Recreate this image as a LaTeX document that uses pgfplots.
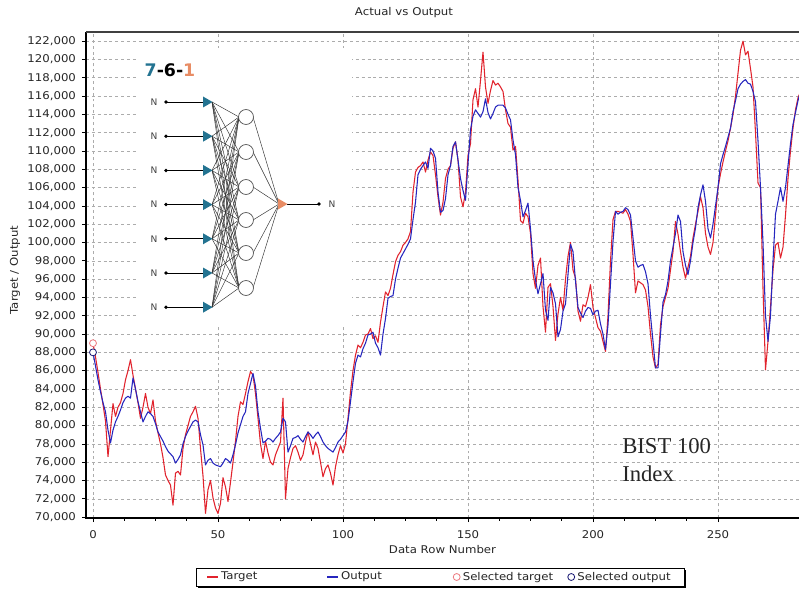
\documentclass[border=0pt]{standalone}
\usepackage{pgfplots}
\pgfplotsset{compat=1.18}
\usepackage{fontspec}
\setmainfont[FakeStretch=1.1]{DejaVu Sans}
\newfontfamily\plainsans{DejaVu Sans}
\newfontfamily\bistfont{Liberation Serif}
\definecolor{tgt}{RGB}{225,35,45}
\definecolor{outc}{RGB}{38,38,190}
\definecolor{teal7}{RGB}{35,115,145}
\definecolor{orng}{RGB}{232,140,100}
\definecolor{gridc}{RGB}{172,172,172}
\begin{document}
\begin{tikzpicture}
\begin{axis}[
 name=ax,
 at={(64.5pt,54pt)}, anchor=south west,
 scale only axis, width=534.75pt, height=364.5pt,
 xmin=-2.8, xmax=282.4, ymin=69900, ymax=123000,
 xtick={0,50,...,250}, ytick={70000,72000,...,122000},
 minor x tick num=3,
 tick align=outside, xtick pos=bottom, ytick pos=left,
 major tick length=3pt, minor tick length=2pt,
 tick style={black, line width=0.5pt},
 grid=major, major grid style={gridc, dash pattern=on 2.2pt off 2.2pt, line width=0.4pt},
 axis line style={draw=none},
 /pgf/number format/assume math mode=true,
 /pgf/number format/fixed,
 /pgf/number format/precision=0,
 /pgf/number format/1000 sep={,},
 scaled y ticks=false,
 ticklabel style={font=\fontsize{8}{10}\selectfont, text=black!85},
 xticklabel shift=3pt, yticklabel shift=1pt,
 title={Actual vs Output},
 title style={at={(axis description cs:0.446,1.0225)}, anchor=center, font=\fontsize{8}{10}\selectfont, text=black!85},
 xlabel={Data Row Number},
 xlabel style={at={(axis description cs:0.5,-0.0658)}, anchor=center, font=\fontsize{8}{10}\selectfont, text=black!85},
 ylabel={Target / Output},
 ylabel style={at={(axis description cs:-0.0996,0.51)}, anchor=center, font=\fontsize{8}{10}\selectfont, text=black!85},
 legend image code/.code={\draw[mark repeat=2,mark phase=2,#1] plot coordinates {(0pt,0pt) (4pt,0pt) (8pt,0pt)};},
 legend columns=4,
 legend style={name=leg, at={(axis description cs:0.4965,-0.1214)}, anchor=center, draw=black, line width=0.6pt, fill=white,
   font=\fontsize{8}{9.6}\selectfont, text=black!85,
   inner xsep=8pt, inner ysep=1pt,
   /tikz/column 2/.style={column sep=50pt},
   /tikz/column 4/.style={column sep=51.5pt},
   /tikz/column 6/.style={column sep=9pt}},
 every axis plot/.append style={line join=round},
]
\addplot[tgt, line width=0.8pt] coordinates {
(0,89000)(1,87500)(2,85800)(3,84000)(4,82300)(5,80500)(6,76600)(7,79500)(8,82400)(9,81000)
(10,82000)(11,82500)(12,83500)(13,85000)(14,86000)(15,87200)(16,85500)(17,84000)(18,82500)(19,80800)
(20,82000)(21,83500)(22,82000)(23,81300)(24,82800)(25,80500)(26,79200)(27,78000)(28,76500)(29,74600)
(30,74000)(31,73500)(32,71300)(33,74800)(34,75000)(35,74600)(36,77500)(37,79000)(38,80000)(39,81000)
(40,81500)(41,82100)(42,80800)(43,77500)(44,74500)(45,70400)(46,73000)(47,74000)(48,72100)(49,71000)
(50,70400)(51,71500)(52,74300)(53,73300)(54,71700)(55,73800)(56,76000)(57,78300)(58,81000)(59,82600)
(60,82300)(61,83500)(62,84800)(63,85900)(64,85500)(65,83500)(66,80800)(67,78000)(68,76400)(69,78300)
(70,77000)(71,76000)(72,75700)(73,76800)(74,77500)(75,78200)(76,83000)(77,72000)(78,75300)(79,76500)
(80,77500)(81,77800)(82,77100)(83,76200)(84,76800)(85,78200)(86,79300)(87,78000)(88,76800)(89,78200)
(90,77500)(91,76000)(92,74400)(93,75300)(94,75700)(95,74800)(96,73500)(97,75500)(98,76800)(99,77800)
(100,77000)(101,78000)(102,80800)(103,83700)(104,86000)(105,87700)(106,88800)(107,88500)(108,89100)(109,89900)
(110,90000)(111,90600)(112,89500)(113,89800)(114,89100)(115,91300)(116,93000)(117,94600)(118,94200)(119,95000)
(120,96500)(121,97900)(122,98600)(123,99000)(124,99700)(125,100000)(126,100400)(127,101200)(128,105500)(129,107700)
(130,108200)(131,108400)(132,108800)(133,107700)(134,109000)(135,109900)(136,109500)(137,107400)(138,105000)(139,103000)
(140,104400)(141,107000)(142,108000)(143,108400)(144,110300)(145,111000)(146,109000)(147,105000)(148,103900)(149,105500)
(150,109500)(151,110800)(152,115600)(153,116800)(154,114800)(155,117700)(156,120800)(157,117000)(158,115200)(159,116600)
(160,117700)(161,117200)(162,117400)(163,117000)(164,116500)(165,114500)(166,113000)(167,112600)(168,110100)(169,110500)
(170,106800)(171,102400)(172,102100)(173,103200)(174,102800)(175,101000)(176,96600)(177,95000)(178,97500)(179,98300)
(180,93000)(181,90200)(182,95100)(183,95500)(184,93000)(185,89300)(186,92200)(187,94000)(188,92600)(189,96000)
(190,98500)(191,100000)(192,97000)(193,96100)(194,92500)(195,91400)(196,93200)(197,93000)(198,94000)(199,95400)
(200,92900)(201,91800)(202,90700)(203,90300)(204,89200)(205,88100)(206,92000)(207,98000)(208,102500)(209,103400)
(210,103400)(211,103300)(212,103200)(213,103600)(214,103100)(215,102300)(216,98700)(217,94500)(218,95800)(219,95600)
(220,95400)(221,94800)(222,93000)(223,90000)(224,87500)(225,86300)(226,86700)(227,91000)(228,93000)(229,94000)
(230,95000)(231,97000)(232,99000)(233,102300)(234,100900)(235,99000)(236,97300)(237,96100)(238,97300)(239,98500)
(240,100500)(241,102000)(242,103400)(243,105000)(244,103800)(245,101000)(246,99500)(247,98700)(248,100000)(249,103000)
(250,106000)(251,107500)(252,108800)(253,110000)(254,111100)(255,112500)(256,114000)(257,116000)(258,118500)(259,121000)
(260,122000)(261,120500)(262,120900)(263,119000)(264,117000)(265,112000)(266,106500)(267,106000)(268,95000)(269,86100)
(270,89200)(271,93000)(272,97000)(273,99700)(274,100000)(275,98300)(276,99500)(277,103000)(278,107000)(279,110000)
(280,112500)(281,114500)(282,115800)(283,116500)
};
\addlegendentry{Target}
\addplot[outc, line width=0.8pt] coordinates {
(0,88000)(1,86500)(2,85000)(3,83700)(4,82500)(5,81500)(6,79500)(7,78100)(8,79500)(9,80400)
(10,81000)(11,81700)(12,82500)(13,83000)(14,83200)(15,83000)(16,85200)(17,84000)(18,82600)(19,81500)
(20,80400)(21,81000)(22,81500)(23,81300)(24,81000)(25,80200)(26,79300)(27,78800)(28,78300)(29,77700)
(30,77200)(31,76900)(32,76600)(33,75900)(34,76300)(35,76800)(36,78000)(37,78800)(38,79400)(39,79900)
(40,80400)(41,80600)(42,80400)(43,79000)(44,77900)(45,75700)(46,76200)(47,76400)(48,75900)(49,75700)
(50,75600)(51,75500)(52,75900)(53,76400)(54,76200)(55,75900)(56,76800)(57,77900)(58,79200)(59,80100)
(60,81000)(61,81500)(62,83500)(63,84600)(64,85700)(65,84300)(66,81500)(67,79700)(68,78100)(69,78300)
(70,78600)(71,78500)(72,78200)(73,78600)(74,78900)(75,79300)(76,80800)(77,80400)(78,77100)(79,77800)
(80,78600)(81,78700)(82,78900)(83,78500)(84,78200)(85,78800)(86,79300)(87,79000)(88,78600)(89,79000)
(90,79300)(91,78800)(92,78200)(93,77800)(94,77500)(95,77300)(96,77100)(97,77600)(98,78200)(99,78500)
(100,78900)(101,79300)(102,80500)(103,82600)(104,84800)(105,86800)(106,87700)(107,87500)(108,88400)(109,89000)
(110,89900)(111,90000)(112,90200)(113,89000)(114,88500)(115,87700)(116,90000)(117,91700)(118,93900)(119,94100)
(120,94200)(121,96000)(122,97200)(123,98300)(124,98800)(125,99300)(126,99800)(127,100400)(128,102500)(129,104400)
(130,107400)(131,108000)(132,108400)(133,108800)(134,108100)(135,110300)(136,110000)(137,109200)(138,105500)(139,103300)
(140,103500)(141,104800)(142,107400)(143,108400)(144,110500)(145,111000)(146,109000)(147,107000)(148,105700)(149,104600)
(150,108600)(151,112300)(152,113800)(153,114500)(154,114100)(155,113700)(156,114300)(157,115700)(158,114200)(159,113500)
(160,114100)(161,114800)(162,115000)(163,115000)(164,115000)(165,114700)(166,114000)(167,113400)(168,111200)(169,109600)
(170,106000)(171,104600)(172,102800)(173,103500)(174,104300)(175,101500)(176,98000)(177,95900)(178,94400)(179,95500)
(180,96600)(181,92600)(182,91500)(183,95100)(184,94500)(185,93300)(186,89700)(187,90500)(188,92500)(189,93300)
(190,96500)(191,99800)(192,99000)(193,95800)(194,92900)(195,92300)(196,91800)(197,92500)(198,92900)(199,92800)
(200,92100)(201,92500)(202,92600)(203,91100)(204,90000)(205,88300)(206,91000)(207,95500)(208,100100)(209,103400)
(210,103100)(211,103300)(212,103400)(213,103800)(214,103600)(215,103000)(216,100500)(217,98000)(218,97300)(219,97500)
(220,97600)(221,96800)(222,95500)(223,92000)(224,89200)(225,86300)(226,86300)(227,90000)(228,93500)(229,94300)
(230,95800)(231,98000)(232,99500)(233,101000)(234,103000)(235,102300)(236,99000)(237,97500)(238,96500)(239,98000)
(240,100000)(241,101600)(242,103800)(243,105200)(244,106300)(245,104500)(246,101500)(247,100500)(248,102000)(249,104000)
(250,106000)(251,108600)(252,109600)(253,110500)(254,111500)(255,112500)(256,114300)(257,115500)(258,116800)(259,117300)
(260,117600)(261,117800)(262,117400)(263,117300)(264,116500)(265,115400)(266,111100)(267,106000)(268,100000)(269,92000)
(270,89200)(271,92000)(272,98000)(273,103100)(274,104500)(275,106000)(276,104500)(277,106000)(278,108400)(279,110800)
(280,112900)(281,114200)(282,115500)(283,116500)
};
\addlegendentry{Output}
\addplot[only marks, mark=*, mark size=2.6pt, mark options={draw=tgt!60, fill=white, line width=0.6pt}] coordinates {(0,89000)};
\addlegendentry{Selected target}
\addplot[only marks, mark=*, mark size=2.6pt, mark options={draw=outc!60!black, fill=white, line width=0.6pt}] coordinates {(0,88000)};
\addlegendentry{Selected output}
\end{axis}
\draw[line width=1.4pt, black] (ax.north west) -- (ax.south west) -- (ax.south east);
\draw[line width=1pt, black!75] (ax.north west) -- (ax.north east);
\draw[line width=1.5pt, black] ([xshift=1.6pt,yshift=-0.75pt]leg.south west) -- ([xshift=0.75pt,yshift=-0.75pt]leg.south east) -- ([xshift=0.75pt,yshift=-1.6pt]leg.north east);
\begin{scope}[x=0.75pt,y=0.75pt]
\fill[white] (137,265) rectangle (352,542);
\foreach \a in {488,453.8,419.6,385.4,351.2,317,282.8}{
  \foreach \b in {473,438,403,370,337,302}{
    \draw[line width=0.35pt, black!80] (212,\a) -- (239,\b);
  }
}
\foreach \b in {473,438,403,370,337,302}{
  \draw[line width=0.35pt, black!80] (253,\b) -- (279,386);
  \draw[fill=white, draw=black!70, line width=0.5pt] (246,\b) circle (5.6pt);
}
\foreach \a in {488,453.8,419.6,385.4,351.2,317,282.8}{
  \draw[black, line width=0.6pt] (166,\a) -- (203,\a);
  \fill[black] (166,\a) circle (1.4pt);
  \node[font=\plainsans\fontsize{6.8}{7}\selectfont, text=black!75] at (154,\a) {N};
  \fill[teal7] (203,{\a+5.5}) -- (212.5,\a) -- (203,{\a-5.5}) -- cycle;
}
\draw[black, line width=0.6pt] (287,386) -- (319,386);
\fill[black] (319,386) circle (1.4pt);
\node[font=\plainsans\fontsize{6.8}{7}\selectfont, text=black!75] at (332,386) {N};
\fill[orng] (278,391.5) -- (287.5,386) -- (278,380.5) -- cycle;
\node[font=\plainsans\fontsize{13}{15}\selectfont\bfseries] at (170,520) {\textcolor{teal7}{7}-6-\textcolor{orng}{1}};
\node[anchor=base west, font=\bistfont\fontsize{17}{20}\selectfont, text=black!85, inner sep=0pt] at (622,136.7) {BIST 100};
\node[anchor=base west, font=\bistfont\fontsize{17}{20}\selectfont, text=black!85, inner sep=0pt] at (622,108.3) {Index};
\end{scope}
\pgfresetboundingbox
\useasboundingbox (0,0) rectangle (599.25pt,442.5pt);
\end{tikzpicture}
\end{document}
